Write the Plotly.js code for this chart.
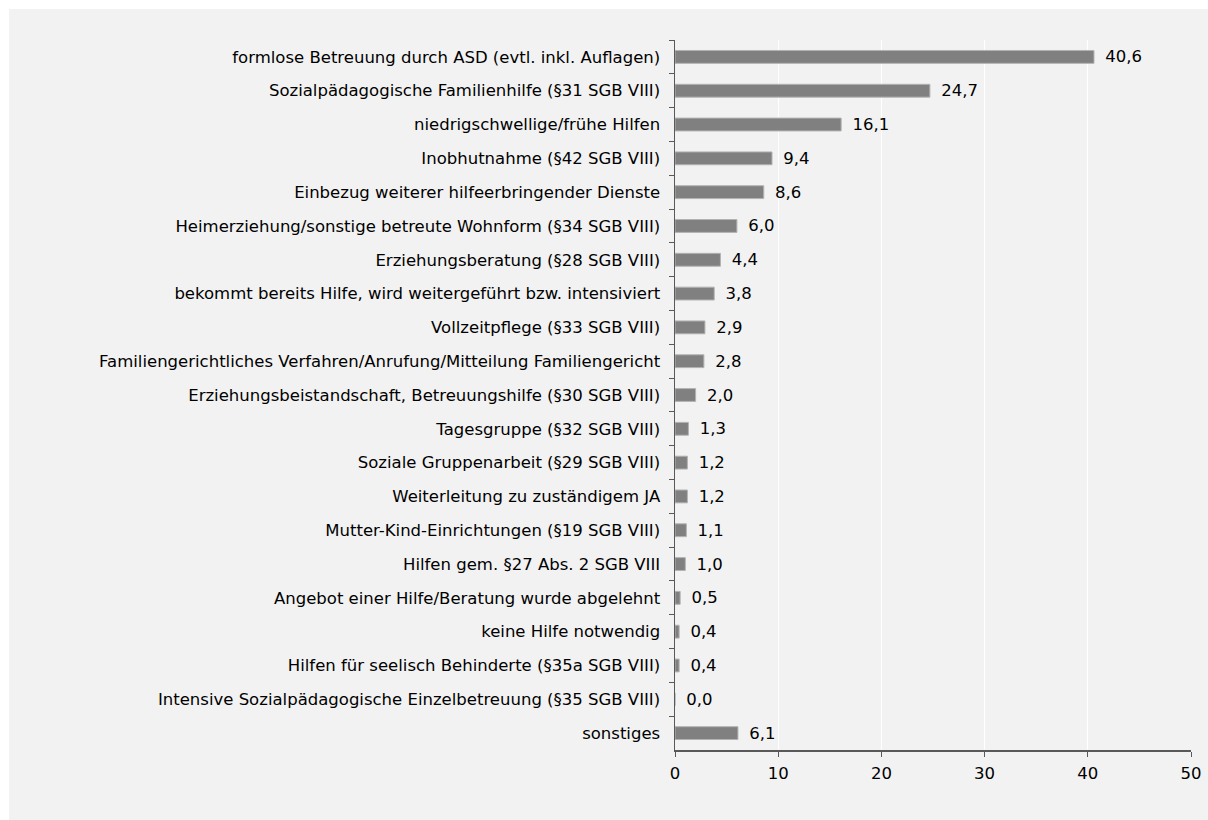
<!DOCTYPE html>
<html>
<head>
<meta charset="utf-8">
<script src="https://cdn.plot.ly/plotly-3.0.1.min.js"></script>
<style>
  html, body { margin: 0; padding: 0; background: #ffffff; }
  #chart { position: absolute; left: 9px; top: 9px; width: 1199px; height: 811px; }
</style>
</head>
<body>
<div id="chart"></div>
<script>
const categories = [
  "formlose Betreuung durch ASD (evtl. inkl. Auflagen)",
  "Sozialpädagogische Familienhilfe (§31 SGB VIII)",
  "niedrigschwellige/frühe Hilfen",
  "Inobhutnahme (§42 SGB VIII)",
  "Einbezug weiterer hilfeerbringender Dienste",
  "Heimerziehung/sonstige betreute Wohnform (§34 SGB VIII)",
  "Erziehungsberatung (§28 SGB VIII)",
  "bekommt bereits Hilfe, wird weitergeführt bzw. intensiviert",
  "Vollzeitpflege (§33 SGB VIII)",
  "Familiengerichtliches Verfahren/Anrufung/Mitteilung Familiengericht",
  "Erziehungsbeistandschaft, Betreuungshilfe (§30 SGB VIII)",
  "Tagesgruppe (§32 SGB VIII)",
  "Soziale Gruppenarbeit (§29 SGB VIII)",
  "Weiterleitung zu zuständigem JA",
  "Mutter-Kind-Einrichtungen (§19 SGB VIII)",
  "Hilfen gem. §27 Abs. 2 SGB VIII",
  "Angebot einer Hilfe/Beratung wurde abgelehnt",
  "keine Hilfe notwendig",
  "Hilfen für seelisch Behinderte (§35a SGB VIII)",
  "Intensive Sozialpädagogische Einzelbetreuung (§35 SGB VIII)",
  "sonstiges"
];
const values = [40.6, 24.7, 16.1, 9.4, 8.6, 6.0, 4.4, 3.8, 2.9, 2.8, 2.0, 1.3, 1.2, 1.2, 1.1, 1.0, 0.5, 0.4, 0.4, 0.0, 6.1];
const xTicks = [0, 10, 20, 30, 40, 50];

const FONT = "DejaVu Sans, sans-serif";
const FSIZE = 16.5;

const trace = {
  type: "bar",
  orientation: "h",
  x: values,
  y: categories,
  marker: { color: "#808080", line: { color: "#b3b3b3", width: 1 } },
  texttemplate: "\u2002%{x:.1f}",
  textposition: "outside",
  constraintext: "none",
  cliponaxis: false,
  textfont: { family: FONT, size: FSIZE, color: "#000000" },
  hoverinfo: "skip"
};

const layout = {
  width: 1199,
  height: 811,
  paper_bgcolor: "#f2f2f2",
  plot_bgcolor: "#f2f2f2",
  separators: ",.",
  margin: { l: 666, r: 17, t: 31, b: 70 },
  bargap: 0.62,
  showlegend: false,
  font: { family: FONT, size: FSIZE, color: "#000000" },
  xaxis: {
    range: [0, 50],
    tickvals: xTicks,
    ticktext: xTicks.map(String),
    showgrid: true,
    gridcolor: "#ffffff",
    gridwidth: 1,
    zeroline: false,
    showline: true,
    linecolor: "#595959",
    linewidth: 1.5,
    ticks: "outside",
    ticklen: 5,
    tickcolor: "#595959",
    ticklabelstandoff: 3,
    tickfont: { family: FONT, size: FSIZE, color: "#000000" }
  },
  yaxis: {
    type: "category",
    autorange: "reversed",
    showgrid: false,
    zeroline: false,
    showline: true,
    linecolor: "#595959",
    linewidth: 1.5,
    ticks: "outside",
    tickson: "boundaries",
    ticklen: 5,
    tickcolor: "#595959",
    ticklabelstandoff: 10,
    tickfont: { family: FONT, size: FSIZE, color: "#000000" }
  }
};

Plotly.newPlot("chart", [trace], layout, { displayModeBar: false, staticPlot: true });
</script>
</body>
</html>
